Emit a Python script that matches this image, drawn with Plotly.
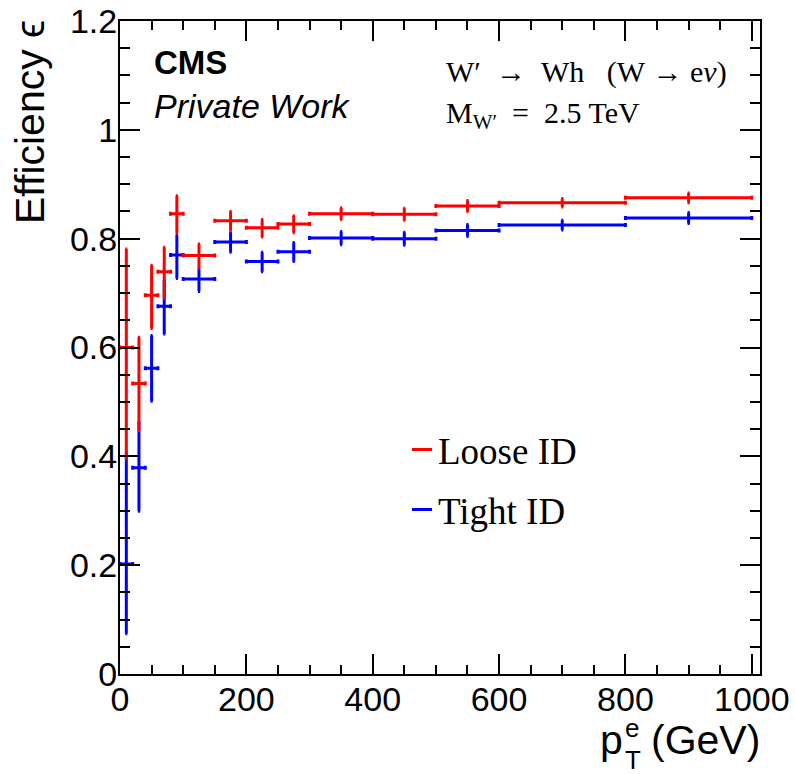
import plotly.graph_objects as go

# pT bin edges (GeV)
bin_lo = [0, 20, 40, 60, 80, 100, 150, 200, 250, 300, 400, 500, 600, 800]
bin_hi = [20, 40, 60, 80, 100, 150, 200, 250, 300, 400, 500, 600, 800, 1000]

# Loose ID efficiency with asymmetric uncertainties
loose_eff = [0.600, 0.534, 0.696, 0.739, 0.846, 0.769, 0.833, 0.820, 0.827, 0.846, 0.845, 0.860, 0.866, 0.875]
loose_up = [0.181, 0.085, 0.055, 0.045, 0.033, 0.021, 0.017, 0.015, 0.015, 0.011, 0.011, 0.010, 0.008, 0.009]
loose_dn = [0.205, 0.087, 0.061, 0.049, 0.036, 0.023, 0.018, 0.017, 0.016, 0.011, 0.011, 0.010, 0.008, 0.009]

# Tight ID efficiency with asymmetric uncertainties
tight_eff = [0.202, 0.379, 0.562, 0.676, 0.770, 0.726, 0.794, 0.758, 0.776, 0.801, 0.800, 0.815, 0.825, 0.838]
tight_up = [0.205, 0.085, 0.060, 0.048, 0.037, 0.020, 0.018, 0.017, 0.017, 0.012, 0.012, 0.011, 0.009, 0.010]
tight_dn = [0.128, 0.080, 0.061, 0.051, 0.043, 0.023, 0.019, 0.019, 0.018, 0.012, 0.012, 0.011, 0.009, 0.010]

x_ticks = [0, 200, 400, 600, 800, 1000]
y_ticks = [0, 0.2, 0.4, 0.6, 0.8, 1.0, 1.2]

centers = [(a + b) / 2 for a, b in zip(bin_lo, bin_hi)]
half_w = [(b - a) / 2 for a, b in zip(bin_lo, bin_hi)]

SANS = "Liberation Sans, Arial, Helvetica, sans-serif"
SERIF = "Liberation Serif, Times New Roman, serif"
RED = "#ff0000"
BLUE = "#0000ff"
NB = "\u00a0"

fig = go.Figure()


def add_series(eff, up, dn, color):
    fig.add_trace(go.Scatter(
        x=centers, y=eff, mode="markers",
        marker=dict(size=1, color=color),
        error_x=dict(type="data", array=half_w, symmetric=True,
                     color=color, thickness=3, width=2),
        error_y=dict(type="data", array=up, arrayminus=dn, symmetric=False,
                     color=color, thickness=3, width=1),
        showlegend=False, hoverinfo="skip",
    ))


add_series(tight_eff, tight_up, tight_dn, BLUE)
add_series(loose_eff, loose_up, loose_dn, RED)

# plot-area geometry in pixels
L, R, T, B = 120, 35, 21, 100
W = 795 - L - R
H = 774 - T - B


def px(xp):
    return (xp - L) / W


def py(yp):
    return (774 - B - yp) / H


process_text = f"W′{NB}{NB}→{NB}{NB}Wh{NB}{NB}{NB}(W{NB}→{NB}e<i>ν</i>)"
mass_text = f"M<sub>W′</sub>{NB}{NB}={NB}{NB}2.5 TeV"

annotations = [
    dict(text="<b>CMS</b>", x=px(152), y=py(63), xanchor="left", yanchor="middle",
         font=dict(family=SANS, size=33, color="black")),
    dict(text="<i>Private Work</i>", x=px(152), y=py(106), xanchor="left", yanchor="middle",
         font=dict(family=SANS, size=34, color="black")),
    dict(text=process_text, x=px(444), y=py(72), xanchor="left", yanchor="middle",
         font=dict(family=SERIF, size=30, color="black")),
    dict(text=mass_text, x=px(444), y=py(115), xanchor="left", yanchor="middle",
         font=dict(family=SERIF, size=30, color="black")),
    dict(text="Loose ID", x=px(436), y=py(451), xanchor="left", yanchor="middle",
         font=dict(family=SERIF, size=37, color="black")),
    dict(text="Tight ID", x=px(436), y=py(511), xanchor="left", yanchor="middle",
         font=dict(family=SERIF, size=37, color="black")),
    # y-axis title
    dict(text="Efficiency ϵ", x=px(30), y=py(18), xanchor="center", yanchor="top",
         textangle=-90, font=dict(family=SANS, size=41, color="black")),
    # x-axis title: p with stacked e / T, then (GeV)
    dict(text="(GeV)", x=px(762), y=py(740), xanchor="right", yanchor="middle",
         font=dict(family=SANS, size=41, color="black")),
    dict(text="p", x=px(625), y=py(740), xanchor="right", yanchor="middle",
         font=dict(family=SANS, size=41, color="black")),
    dict(text="e", x=px(623), y=py(728), xanchor="left", yanchor="middle",
         font=dict(family=SANS, size=26, color="black")),
    dict(text="T", x=px(623), y=py(760), xanchor="left", yanchor="middle",
         font=dict(family=SANS, size=26, color="black")),
]
for a in annotations:
    a.update(xref="paper", yref="paper", showarrow=False)

shapes = [
    dict(type="line", xref="paper", yref="paper", x0=px(412), x1=px(432), y0=py(449.5), y1=py(449.5),
         line=dict(color=RED, width=3)),
    dict(type="line", xref="paper", yref="paper", x0=px(412), x1=px(432), y0=py(509.5), y1=py(509.5),
         line=dict(color=BLUE, width=3)),
]

axis_common = dict(
    showgrid=False, zeroline=False, showline=True, linecolor="black", linewidth=2,
    mirror="ticks", ticks="inside", tickcolor="black", tickwidth=1.5, ticklen=20,
    tickfont=dict(family=SANS, size=34, color="black"), automargin=False,
)

fig.update_layout(
    width=795, height=774,
    margin=dict(l=L, r=R, t=T, b=B, autoexpand=False),
    paper_bgcolor="white", plot_bgcolor="white",
    font=dict(family=SANS, color="black"),
    xaxis=dict(range=[0, 1013], tickvals=x_ticks, ticklabelstandoff=-6,
               minor=dict(ticks="inside", ticklen=9, tickwidth=1.5, tickcolor="black",
                          dtick=50, tick0=0),
               **axis_common),
    yaxis=dict(range=[0, 1.2], tickvals=y_ticks, ticktext=[f"{v:g}" for v in y_ticks],
               ticklabelstandoff=-6,
               minor=dict(ticks="inside", ticklen=10, tickwidth=1.5, tickcolor="black",
                          dtick=0.05, tick0=0),
               **axis_common),
    annotations=annotations,
    shapes=shapes,
)

fig.write_html("out.html")
